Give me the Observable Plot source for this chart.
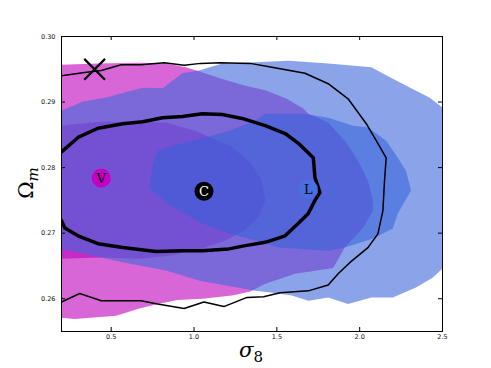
<!DOCTYPE html>
<html><head><meta charset="utf-8">
<script src="https://cdn.jsdelivr.net/npm/d3@7"></script>
<script src="https://cdn.jsdelivr.net/npm/@observablehq/plot@0.6"></script>
<style>body{margin:0;background:#fff}#chart{width:491px;height:368px}</style>
</head><body><div id="chart"></div>
<script>
// [sigma8, Omega_m] vertices
const vOuter = [[0.20,0.2957],[0.42,0.2959],[0.67,0.2960],[0.83,0.2959],[0.95,0.2953],[1.03,0.2947],[1.16,0.2936],[1.31,0.2925],[1.43,0.2918],[1.56,0.2905],[1.66,0.2890],[1.69,0.2882],[1.81,0.2869],[1.91,0.2841],[1.99,0.2811],[2.05,0.2780],[2.08,0.2750],[2.08,0.2734],[2.02,0.2708],[1.91,0.2678],[1.84,0.2647],[1.61,0.2638],[1.43,0.2623],[1.34,0.2611],[1.23,0.2605],[1.05,0.2600],[0.90,0.2598],[0.78,0.2592],[0.67,0.2585],[0.53,0.2574],[0.28,0.2569],[0.20,0.2571]];
const vInner = [[0.20,0.2864],[0.42,0.2870],[0.62,0.2870],[0.83,0.2869],[1.01,0.2856],[1.23,0.2831],[1.34,0.2808],[1.41,0.2780],[1.43,0.2750],[1.39,0.2725],[1.31,0.2705],[1.19,0.2689],[1.04,0.2676],[0.86,0.2666],[0.68,0.2661],[0.44,0.2663],[0.20,0.2661]];
const lOuter = [[0.20,0.2887],[0.33,0.2901],[0.47,0.2907],[0.69,0.2922],[0.81,0.2921],[0.93,0.2944],[1.03,0.2948],[1.17,0.2959],[1.31,0.2960],[1.57,0.2963],[1.81,0.2959],[2.07,0.2953],[2.22,0.2933],[2.42,0.2907],[2.50,0.2892],[2.50,0.2646],[2.44,0.2632],[2.34,0.2617],[2.20,0.2602],[2.07,0.2602],[1.93,0.2592],[1.81,0.2602],[1.69,0.2597],[1.59,0.2605],[1.51,0.2608],[1.37,0.2612],[1.04,0.2627],[0.83,0.2643],[0.62,0.2653],[0.44,0.2663],[0.20,0.2676]];
const lInner = [[0.78,0.2826],[0.93,0.2837],[1.07,0.2846],[1.21,0.2856],[1.37,0.2872],[1.43,0.2882],[1.66,0.2882],[1.81,0.2876],[1.96,0.2864],[2.05,0.2861],[2.16,0.2841],[2.23,0.2815],[2.28,0.2795],[2.31,0.2765],[2.23,0.2730],[2.20,0.2707],[2.08,0.2692],[1.91,0.2678],[1.81,0.2673],[1.51,0.2678],[1.31,0.2693],[1.22,0.2699],[1.04,0.2716],[0.86,0.2742],[0.73,0.2768],[0.75,0.2803]];
const c95 = [[0.20,0.2940],[0.34,0.2945],[0.44,0.2948],[0.56,0.2957],[0.68,0.2957],[0.82,0.2960],[0.94,0.2956],[1.04,0.2959],[1.16,0.2960],[1.34,0.2959],[1.47,0.2953],[1.67,0.2944],[1.81,0.2928],[1.93,0.2905],[2.04,0.2867],[2.10,0.2841],[2.16,0.2815],[2.15,0.2780],[2.14,0.2734],[2.11,0.2699],[2.05,0.2678],[1.94,0.2655],[1.87,0.2638],[1.81,0.2621],[1.69,0.2612],[1.52,0.2609],[1.42,0.2603],[1.32,0.2602],[1.18,0.2588],[1.06,0.2595],[0.94,0.2585],[0.78,0.2592],[0.68,0.2597],[0.44,0.2597],[0.31,0.2608],[0.20,0.2595]];
const c68 = [[0.20,0.2824],[0.30,0.2846],[0.42,0.2860],[0.57,0.2867],[0.69,0.2870],[0.81,0.2876],[0.93,0.2878],[1.05,0.2882],[1.17,0.2881],[1.29,0.2875],[1.43,0.2864],[1.55,0.2852],[1.63,0.2837],[1.72,0.2815],[1.73,0.2785],[1.76,0.2762],[1.73,0.2750],[1.69,0.2730],[1.63,0.2715],[1.55,0.2696],[1.43,0.2686],[1.31,0.2681],[1.21,0.2676],[1.05,0.2673],[0.93,0.2673],[0.77,0.2672],[0.57,0.2678],[0.42,0.2684],[0.30,0.2696],[0.22,0.2708],[0.20,0.2719]];
const markerNames = ["V","C","L"];
const markerS8 = [0.44,1.06,1.69];
const markerOm = [0.2784,0.2764,0.2767];
const markerFill = ["#c400c4","#000000","#4a6fe3"];
const markerText = ["#000000","#ffffff","#000000"];
const crossS8 = [0.40];
const crossOm = [0.295];
const xTicks = [0.5,1.0,1.5,2.0,2.5];
const yTicks = [0.26,0.27,0.28,0.29,0.30];

const markers = markerNames.map((n,i)=>({name:n, s8:markerS8[i], om:markerOm[i], fill:markerFill[i], tc:markerText[i]}));
const cross = crossS8.map((s,i)=>({s8:s, om:crossOm[i]}));

const W=491,H=368,mL=61,mR=49,mT=36,mB=37;
const plotH=H-mT-mB, plotW=W-mL-mR;
const P = {x:d=>d[0], y:d=>d[1]};
const chart = Plot.plot({
  width:W, height:H, marginLeft:mL, marginRight:mR, marginTop:mT, marginBottom:mB,
  x:{domain:[0.2,2.5]}, y:{domain:[0.255,0.30]},
  style:{background:"white", fontFamily:"DejaVu Sans", fontSize:"6.5px", color:"#111", overflow:"visible"},
  marks:[
    Plot.line(vOuter, {...P, fill:"#d966d6", stroke:"none", clip:true}),
    Plot.line(vInner, {...P, fill:"#c72ac5", stroke:"none", clip:true}),
    Plot.line(lOuter, {...P, fill:"rgb(65,106,219)", fillOpacity:0.615, stroke:"none", clip:true}),
    Plot.line(lInner, {...P, fill:"rgb(51,98,216)", fillOpacity:0.55, stroke:"none", clip:true}),
    Plot.line(c95, {...P, stroke:"black", strokeWidth:1.5, clip:true}),
    Plot.line(c68, {...P, stroke:"black", strokeWidth:3.5, clip:true}),
    Plot.dot(markers, {x:"s8", y:"om", r:9.5, fill:d=>d.fill, stroke:"none"}),
    Plot.text(markers, {x:"s8", y:"om", text:"name", fill:d=>d.tc, fontFamily:"DejaVu Serif", fontSize:13, dy:0.5}),
    Plot.dot(cross, {x:"s8", y:"om", symbol:"times", r:9.5, stroke:"black", strokeWidth:2.2}),
    Plot.tickX(xTicks, {x:d=>d, insetTop:plotH-4, stroke:"black"}),
    Plot.tickX(xTicks, {x:d=>d, insetBottom:plotH-4, stroke:"black"}),
    Plot.tickY(yTicks, {y:d=>d, insetRight:plotW-4, stroke:"black"}),
    Plot.tickY(yTicks, {y:d=>d, insetLeft:plotW-4, stroke:"black"}),
    Plot.frame({stroke:"black"}),
    Plot.axisX({ticks:xTicks, tickSize:0, tickPadding:3, tickFormat:d3.format(".1f"), label:null}),
    Plot.axisY({ticks:yTicks, tickSize:0, tickPadding:6, tickFormat:d3.format(".2f"), label:null})
  ]
});
document.getElementById("chart").appendChild(chart);
const svg = d3.select(chart);
const yl = svg.append("text").attr("transform","translate(33,183) rotate(-90)")
  .attr("text-anchor","middle").style("font-family","DejaVu Serif").style("font-size","21px").attr("fill","black");
yl.append("tspan").text("Ω");
yl.append("tspan").attr("font-style","italic").attr("font-size","15px").attr("dy","5").text("m");
const xl = svg.append("text").attr("x",251).attr("y",357)
  .attr("text-anchor","middle").style("font-family","DejaVu Serif").style("font-size","21px").attr("fill","black");
xl.append("tspan").attr("font-style","italic").text("σ");
xl.append("tspan").attr("font-size","15px").attr("dy","5").text("8");
</script></body></html>
